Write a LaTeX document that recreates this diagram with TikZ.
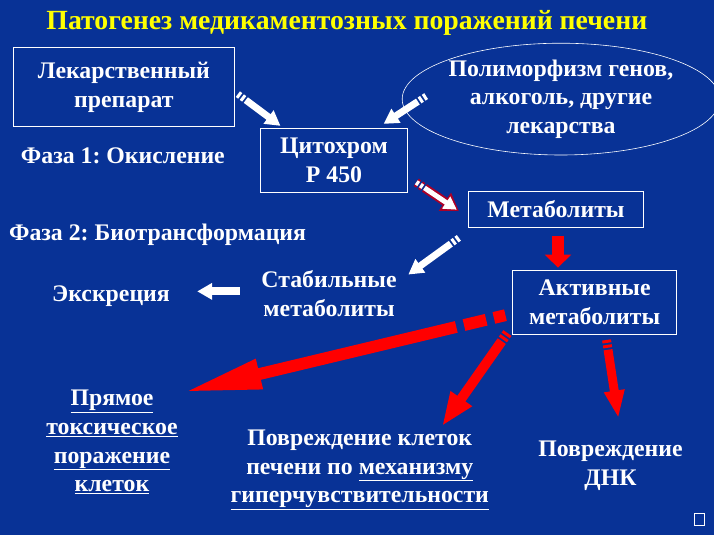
\documentclass[tikz,border=0pt]{standalone}
\usepackage{fontspec}
\setmainfont{Liberation Serif}
\usetikzlibrary{arrows.meta,shapes.geometric}
\definecolor{slideblue}{RGB}{8,50,150}
\definecolor{slideyellow}{RGB}{255,255,0}
\definecolor{rimred}{RGB}{170,0,40}
\frenchspacing

\begin{document}
\begin{tikzpicture}[x=1pt,y=-1pt,
    txt/.style={text=white,font=\fontsize{24}{29}\selectfont\bfseries,align=center,inner sep=0pt},
    box/.style={txt,draw=white,line width=0.8pt},
    warr/.style={white,line width=7pt,dash pattern=on 3pt off 2pt on 3pt off 2pt on 600pt off 1pt,
      -{Triangle[length=15pt,width=16pt]}},
    rarr/.style={red,line width=10pt,dash pattern=on 3pt off 2pt on 3pt off 2pt on 600pt off 1pt,
      -{Triangle[length=30pt,width=20pt]}}]
    \fill[slideblue] (0,0) rectangle (720,540);
    \node [txt,text=slideyellow,font=\fontsize{28}{32}\selectfont\bfseries] (title) at (350,23)
      {Патогенез медикаментозных поражений печени};
    \node [box,minimum width=222pt,minimum height=80pt] (drug) at (125,88) {Лекарственный\\препарат};
    \node [box,minimum width=148pt,minimum height=64pt] (cyt) at (337,162) {Цитохром\\Р 450};
    \node [txt,ellipse,draw=white,line width=0.6pt,minimum width=278pt,minimum height=104pt] (poly) at (566,100)
      {Полиморфизм генов,\\алкоголь, другие\\лекарства};
    \node [txt] (phase1) at (124,157) {Фаза 1: Окисление};
    \node [box,minimum width=176pt,minimum height=36pt] (metab) at (561,211) {Метаболиты};
    \node [txt] (phase2) at (159,237) {Фаза 2: Биотрансформация};
    \node [txt] (excr) at (112,299) {Экскреция};
    \node [txt] (stable) at (332,296) {Стабильные\\метаболиты};
    \node [box,minimum width=165pt,minimum height=64pt] (active) at (600,305) {Активные\\метаболиты};
    \node [txt] (direct) at (113,446)
      {\underline{Прямое}\\\underline{токсическое}\\\underline{поражение}\\\underline{клеток}};
    \node [txt] (hyper) at (363,474)
      {Повреждение клеток\\печени по \underline{механизму}\\\underline{гиперчувствительности}};
    \node [txt] (dna) at (616,470) {Повреждение\\ДНК};
    \node [draw=white,line width=0.6pt,minimum width=10pt,minimum height=12pt,inner sep=0pt] (mark) at (706,524) {};

    \coordinate (a1s) at (240,95);  \coordinate (a1e) at (283,127);
    \coordinate (a2s) at (430,97);  \coordinate (a2e) at (387,125);
    \coordinate (a3s) at (420,184); \coordinate (a3e) at (463,213);
    \coordinate (a4s) at (463,240); \coordinate (a4e) at (412,277);
    \coordinate (a5s) at (242,294); \coordinate (a5e) at (199,294);
    \coordinate (a6s) at (563,238); \coordinate (a6e) at (563,270);
    \coordinate (a7s) at (510,318); \coordinate (a7e) at (184,396);
    \coordinate (a8s) at (512,336); \coordinate (a8e) at (446,430);
    \coordinate (a9s) at (612,343); \coordinate (a9e) at (624,422);

    \draw [warr] (a1s) -- (a1e);
    \draw [warr] (a2s) -- (a2e);
    \draw [warr,rimred,line width=9pt,-{Triangle[length=17pt,width=21pt]}] (a3s) -- (a3e);
    \draw [warr,line width=5pt,shorten >=2.5pt,-{Triangle[length=13pt,width=14pt]}] (a3s) -- (a3e);
    \draw [warr] (a4s) -- (a4e);
    \draw [warr,line width=8pt,solid] (a5s) -- (a5e);
    \draw [rarr,line width=13pt,solid,-{Triangle[length=13pt,width=26pt]}] (a6s) -- (a6e);
    \draw [rarr,line width=12pt,dash pattern=on 12pt off 8pt on 23pt off 8pt on 600pt off 1pt,
      -{Triangle[length=80pt,width=28pt]}] (a7s) -- (a7e);
    \draw [rarr,-{Triangle[length=34pt,width=24pt]}] (a8s) -- (a8e);
    \draw [rarr,line width=9pt,-{Triangle[length=28pt,width=19pt]}] (a9s) -- (a9e);
\end{tikzpicture}
\end{document}
